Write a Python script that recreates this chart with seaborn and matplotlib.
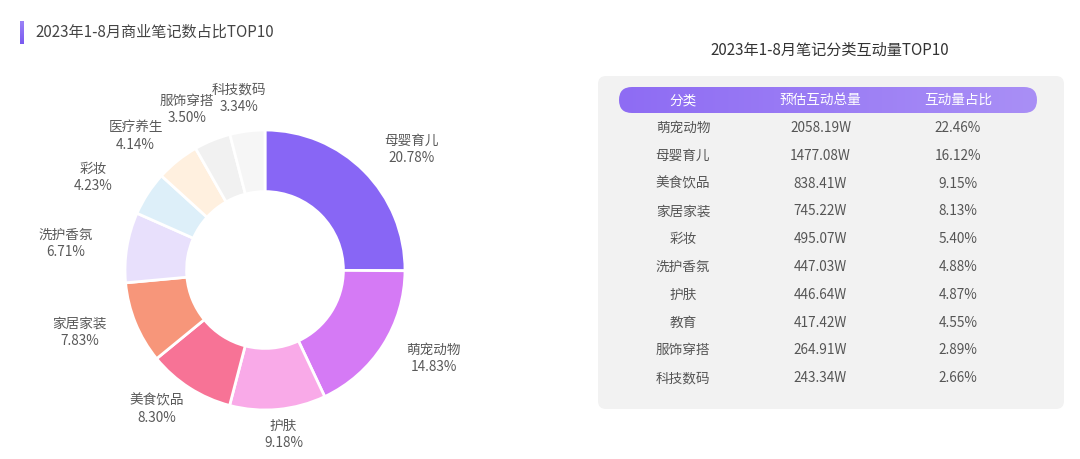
import numpy as np
import seaborn as sns
import matplotlib.pyplot as plt
from matplotlib.patches import FancyBboxPatch

sns.set_theme(style="white")
plt.rcParams['font.family'] = ['Noto Sans CJK SC', 'DejaVu Sans']

# donut: share of commercial notes
pie_labels = ['母婴育儿', '萌宠动物', '护肤', '美食饮品', '家居家装',
              '洗护香氛', '彩妆', '医疗养生', '服饰穿搭', '科技数码']
pie_values = [20.78, 14.83, 9.18, 8.30, 7.83, 6.71, 4.23, 4.14, 3.50, 3.34]
pie_colors = ['#8866F5', '#D57AF5', '#F9AAE8', '#F77396', '#F7967A',
              '#E8E0FC', '#DDEFF9', '#FFF0DF', '#F1F1F1', '#F6F6F6']

# table: interaction volume
tbl_header = ['分类', '预估互动总量', '互动量占比']
tbl_cat = ['萌宠动物', '母婴育儿', '美食饮品', '家居家装', '彩妆',
           '洗护香氛', '护肤', '教育', '服饰穿搭', '科技数码']
tbl_total = ['2058.19W', '1477.08W', '838.41W', '745.22W', '495.07W',
             '447.03W', '446.64W', '417.42W', '264.91W', '243.34W']
tbl_share = ['22.46%', '16.12%', '9.15%', '8.13%', '5.40%',
             '4.88%', '4.87%', '4.55%', '2.89%', '2.66%']

W, H = 1080, 459
fig = plt.figure(figsize=(W / 100, H / 100), dpi=100)
fig.patch.set_facecolor('white')

# decoration layer in pixel coords (origin top-left)
deco = fig.add_axes([0, 0, 1, 1], zorder=0)
deco.axis('off')

# title with purple bar
grad = np.linspace(0, 1, 50).reshape(-1, 1)
deco.imshow(grad, extent=[20, 24, 44, 21], cmap=sns.blend_palette(['#9B82F7', '#7A5AF0'], as_cmap=True),
            aspect='auto', zorder=2)
deco.text(35, 32.5, '2023年1-8月商业笔记数占比TOP10', fontsize=10.9, color='#444444',
          va='center', ha='left')

# table background + header pill
deco.add_patch(FancyBboxPatch((598, 76), 466, 333, boxstyle='round,pad=0,rounding_size=8',
                              facecolor='#F2F2F2', edgecolor='none', zorder=1))
pill = FancyBboxPatch((619, 87), 418, 26, boxstyle='round,pad=0,rounding_size=13',
                      facecolor='none', edgecolor='none', zorder=2)
deco.add_patch(pill)
hgrad = np.linspace(0, 1, 200).reshape(1, -1)
im = deco.imshow(hgrad, extent=[619, 1037, 113, 87], aspect='auto', zorder=2,
                 cmap=sns.blend_palette(['#8E6CF3', '#A98FF6'], as_cmap=True))
im.set_clip_path(pill)
deco.text(830, 50, '2023年1-8月笔记分类互动量TOP10', fontsize=10.9, color='#333333',
          ha='center', va='center')
deco.set_xlim(0, W)
deco.set_ylim(H, 0)

# donut chart
r_px = 140
cx, cy = 265, 270
ax = fig.add_axes([0, 0, 530 / W, 1], zorder=3)
wedges, _ = ax.pie(pie_values, colors=pie_colors, startangle=90, counterclock=False,
                   radius=1, wedgeprops=dict(width=0.44, edgecolor='white', linewidth=2))
ax.set_xlim(-cx / r_px, (530 - cx) / r_px)
ax.set_ylim(-(H - cy) / r_px, cy / r_px)
ax.set_aspect('equal', adjustable='datalim')
ax.axis('off')
for w, name, val in zip(wedges, pie_labels, pie_values):
    ang = np.deg2rad((w.theta1 + w.theta2) / 2)
    R = 1.18 + 0.06 * max(np.sin(ang), 0)
    x = R * np.cos(ang) + 0.25 * np.cos(ang)
    y = R * np.sin(ang)
    ax.text(x, y, f'{name}\n{val:.2f}%', ha='center', va='center', fontsize=9.8,
            color='#595959', linespacing=1.3)

# table text
tax = fig.add_axes([598 / W, 1 - 409 / H, 466 / W, 333 / H], zorder=4)
tax.patch.set_alpha(0)
tax.axis('off')
step = 137.5
row = 27.8
tax.set_xlim(-85 / step, (466 - 85) / step)
tax.set_ylim((409 - 128) / row, (76 - 128) / row)
for j, h in enumerate(tbl_header):
    tax.text(j, -1, h, ha='center', va='center', fontsize=9.8, color='white')
for i, (c, t, s) in enumerate(zip(tbl_cat, tbl_total, tbl_share)):
    for j, v in enumerate([c, t, s]):
        tax.text(j, i, v, ha='center', va='center', fontsize=9.8, color='#555555')

fig.savefig('out.png', dpi=100)
